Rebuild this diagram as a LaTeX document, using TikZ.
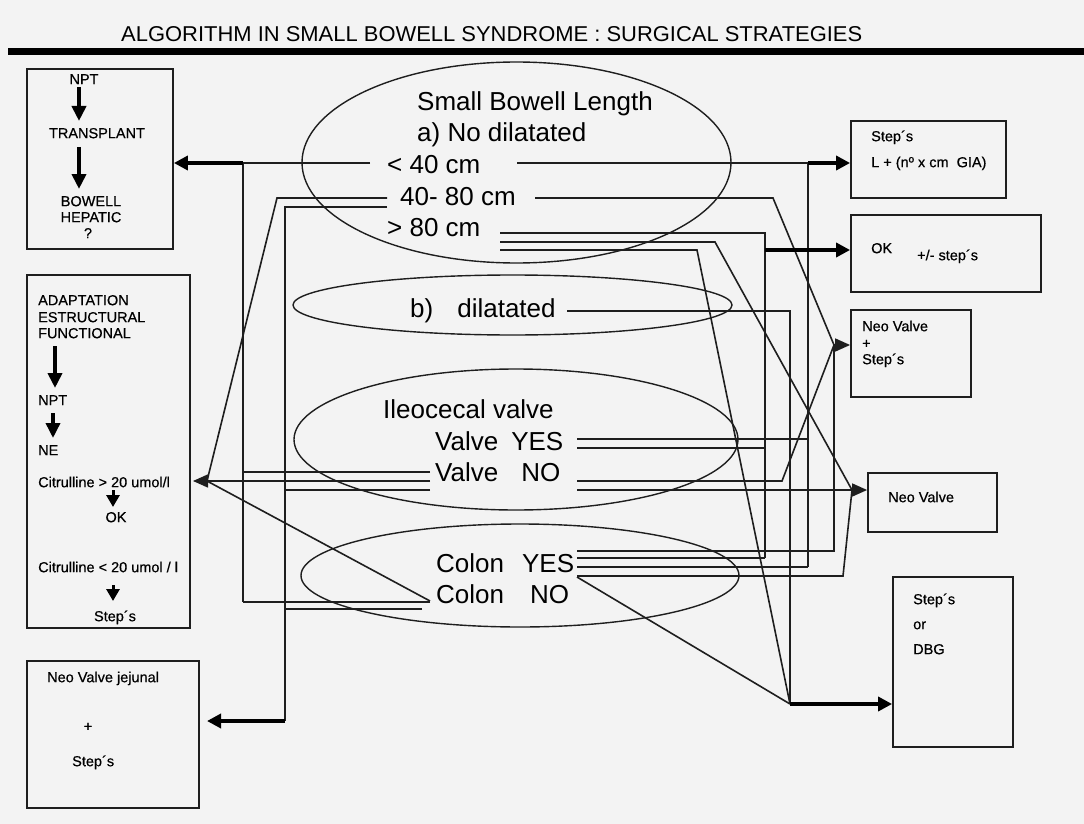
\documentclass[tikz,border=0pt]{standalone}
\usepackage{graphicx}
\usepackage{fontspec}
\setmainfont{Liberation Sans}
\newfontfamily\boxfont[FakeBold=0.5]{Liberation Sans}
\usetikzlibrary{arrows.meta,shapes.geometric}
\definecolor{paper}{RGB}{243,243,243}
\definecolor{ink}{RGB}{30,30,30}
\begin{document}
\begin{tikzpicture}[x=1pt,y=-1pt,
  box/.style={draw=ink, line width=1.8pt, inner sep=0pt},
  oval/.style={draw=ink, line width=1.4pt, ellipse, inner sep=0pt},
  sm/.style={inner sep=0pt, anchor=west, text height=10.4pt, text depth=0pt, font=\boxfont\fontsize{14.5}{17}\selectfont, text=black},
  smc/.style={sm, anchor=center},
  big/.style={inner sep=0pt, anchor=west, text height=18.7pt, text depth=0pt, font=\fontsize{26}{30}\selectfont, text=black},
  wire/.style={draw=ink, line width=1.6pt},
  thk/.style={draw=black, line width=4pt, -{Triangle[length=14pt,width=14pt]}},
  thn/.style={draw=ink, line width=1.6pt, -{Triangle[length=15pt,width=13pt]}},
  inarrow/.style={draw=black, line width=4pt, -{Triangle[length=15pt,width=14pt]}},
  smarrow/.style={draw=black, line width=3pt, -{Triangle[length=12pt,width=13pt]}}
]
\fill[paper] (0,0) rectangle (1084,824);
\useasboundingbox (0,0) rectangle (1084,824);

% title and bar
\node[anchor=south west, inner sep=0pt] (title) at (121,42)
  {\resizebox{741pt}{15pt}{ALGORITHM IN SMALL BOWELL SYNDROME : SURGICAL STRATEGIES}};
\fill[black] (8,48) rectangle (1084,55);

% boxes
\node[box, minimum width=146pt, minimum height=180pt] (tl) at (100,159) {};
\node[box, minimum width=163pt, minimum height=353pt] (lm) at (108.5,451.5) {};
\node[box, minimum width=172pt, minimum height=147pt] (bl) at (113,734.5) {};
\node[box, minimum width=155pt, minimum height=77pt] (st) at (928.5,159.5) {};
\node[box, minimum width=190pt, minimum height=77pt] (ok) at (946,253.5) {};
\node[box, minimum width=120pt, minimum height=87pt] (nvs) at (911,353.5) {};
\node[box, minimum width=129pt, minimum height=59pt] (nv) at (932.5,502.5) {};
\node[box, minimum width=120pt, minimum height=170pt] (sd) at (953,662) {};

% ellipses
\node[oval, minimum width=429pt, minimum height=201pt] (e1) at (516.5,162.5) {};
\node[oval, minimum width=439pt, minimum height=60pt] (e2) at (512.5,305) {};
\node[oval, minimum width=444pt, minimum height=141pt] (e3) at (516,439.5) {};
\node[oval, minimum width=438pt, minimum height=103pt] (e4) at (520,575.5) {};

% ellipse texts
\node[big] (sbl) at (417,101) {Small Bowell Length};
\node[big] (nod) at (417,132) {a) No dilatated};
\node[big] (l40) at (387,164) {< 40 cm};
\node[big] (l4080) at (400,196) {40- 80 cm};
\node[big] (g80) at (387,227) {> 80 cm};
\node[big] (dil) at (410,308) {b)\hspace{24pt}dilatated};
\node[big] (ileo) at (383,409) {Ileocecal valve};
\node[big] (vyes) at (435,441) {Valve\hspace{13pt}YES};
\node[big] (vno) at (435,472) {Valve\hspace{23pt}NO};
\node[big] (cyes) at (436,563) {Colon\hspace{18pt}YES};
\node[big] (cno) at (436,594) {Colon\hspace{26pt}NO};

% top-left box texts
\node[smc] (npt1) at (84,79) {NPT};
\node[smc] (trans) at (97,133) {TRANSPLANT};
\node[smc] (bow) at (91,201) {BOWELL};
\node[smc] (hep) at (91,217) {HEPATIC};
\node[smc] (q) at (88,233) {?};
\draw[inarrow] (79,87) -- (79,121);
\draw[inarrow] (79,147) -- (79,189);

% left middle box texts
\node[sm] (adap) at (38,300) {ADAPTATION};
\node[sm] (estr) at (38,317) {ESTRUCTURAL};
\node[sm] (func) at (38,333) {FUNCTIONAL};
\node[sm] (npt2) at (38,400) {NPT};
\node[sm] (ne) at (38,450) {NE};
\node[sm] (cit1) at (38,482) {Citrulline > 20 umol/l};
\node[smc] (ok1) at (116,517) {OK};
\node[sm] (cit2) at (38,567) {Citrulline < 20 umol / l};
\node[smc] (st1) at (115,616) {Step´s};
\draw[inarrow] (55,346) -- (55,388);
\draw[inarrow, line width=3.5pt] (53,413) -- (53,438);
\draw[smarrow] (113,490) -- (113,507);
\draw[smarrow] (113,585) -- (113,601);

% bottom-left box texts
\node[sm] (nvj) at (47,677) {Neo Valve jejunal};
\node[smc] (plus1) at (88,726) {+};
\node[sm] (st2) at (72,761) {Step´s};

% right box texts
\node[sm] (st3) at (871,136) {Step´s};
\node[sm] (lf) at (871,162) {L + (nº x cm\ \ GIA)};
\node[sm] (ok2) at (871,248) {OK};
\node[sm] (pm) at (917,255) {+/- step´s};
\node[sm] (nv1) at (862,326) {Neo Valve};
\node[sm] (plus2) at (862,343) {+};
\node[sm] (st4) at (862,359) {Step´s};
\node[sm] (nv2) at (888,497) {Neo Valve};
\node[sm] (st5) at (913,599) {Step´s};
\node[sm] (or) at (913,624) {or};
\node[sm] (dbg) at (913,649) {DBG};

% convergence points
\coordinate (c1) at (207,481);
\coordinate (c2) at (834,345);
\coordinate (c3) at (852,490);
\coordinate (c4) at (790,704);
\coordinate (v1t) at (243,163);
\coordinate (v2t) at (808,163);
\coordinate (v3t) at (285,721);

% thin wires
\draw[wire] (370,163) -- (v1t) -- (243,602);
\draw[wire] (517,163) -- (v2t) -- (808,567);
\draw[wire] (387,198) -- (277,198) -- (c1);
\draw[wire] (387,207) -- (285,207) -- (v3t);
\draw[wire] (535,198) -- (773,198) -- (c2);
\draw[wire] (500,233) -- (765,233) -- (765,558);
\draw[wire] (500,242) -- (715,242) -- (c3);
\draw[wire] (500,250) -- (697,250) -- (c4);
\draw[wire] (567,311) -- (790,311) -- (c4);
\draw[wire] (577,439) -- (808,439);
\draw[wire] (577,448) -- (765,448);
\draw[wire] (577,481) -- (782,481) -- (c2);
\draw[wire] (577,490) -- (c3);
\draw[wire] (430,472) -- (243,472);
\draw[wire] (430,481) -- (c1);
\draw[wire] (430,490) -- (285,490);
\draw[wire] (577,551) -- (834,551) -- (c2);
\draw[wire] (577,558) -- (765,558);
\draw[wire] (577,567) -- (808,567);
\draw[wire] (577,576) -- (843,576) -- (c3);
\draw[wire] (577,577) -- (c4);
\draw[wire] (430,602) -- (243,602);
\draw[wire] (422,609) -- (285,609);
\draw[wire] (430,601) -- (c1);

% arrows
\draw[thk] (v1t) -- (tl.east |- v1t);
\draw[thk] (v2t) -- (st.west |- v2t);
\draw[thk] (765,250) -- (ok.west |- 0,250);
\draw[thk] (c4) -- (sd.west |- c4);
\draw[thk] (v3t) -- (207,721);
\draw[thn] (c1) -- (193,481);
\draw[thn] (c2) -- (nvs.west |- c2);
\draw[thn] (c3) -- (nv.west |- c3);
\end{tikzpicture}
\end{document}
